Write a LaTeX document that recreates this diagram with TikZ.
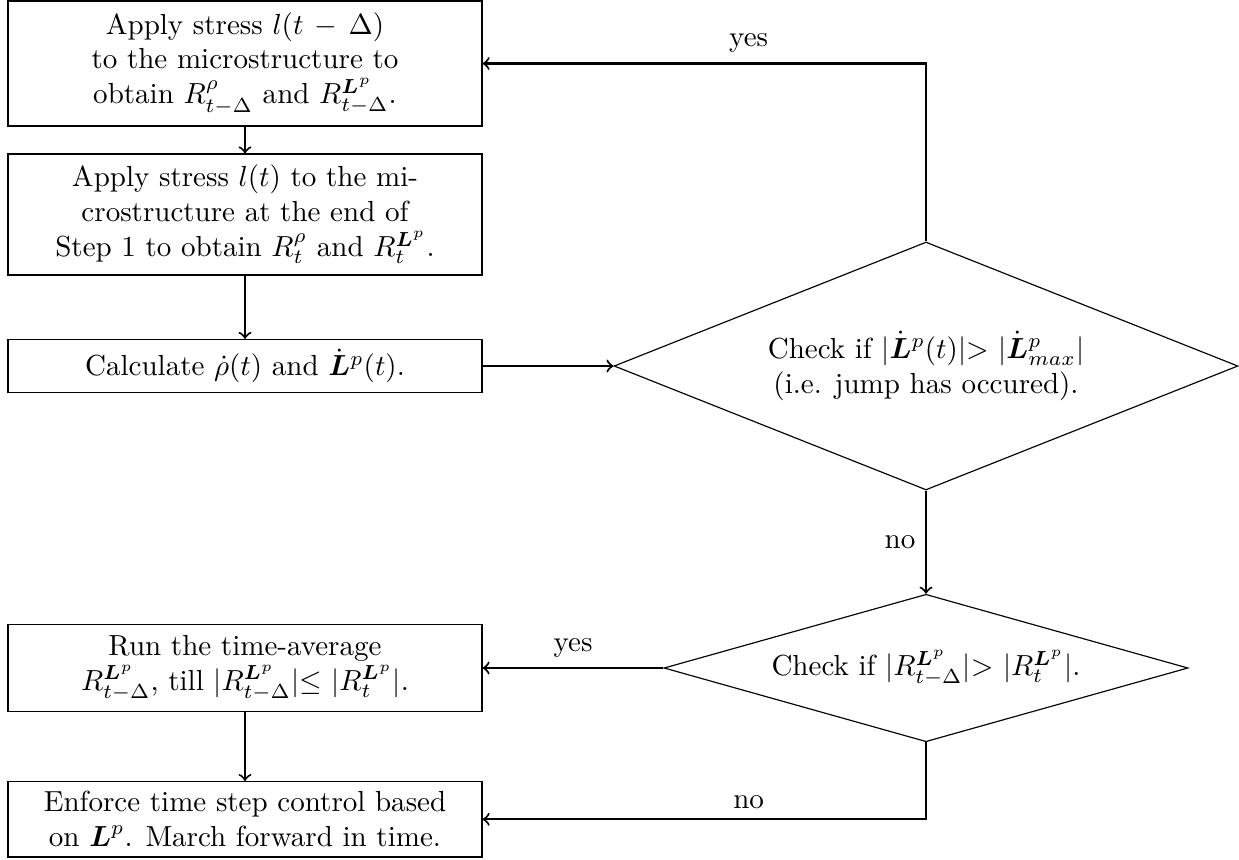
\documentclass[tikz,border=0pt]{standalone}
\usepackage{amsmath,amssymb}
\usetikzlibrary{shapes.geometric,arrows}
\newcommand{\bL}{\boldsymbol{L}}
\tikzset{
  procbox/.style={draw, thin, rectangle, align=center, inner sep=3pt,
    minimum width=163.3pt},
  decbox/.style={draw, thin, diamond, align=center, inner sep=0pt},
  conn/.style={->, line width=0.7pt},
  lbl/.style={inner sep=3.33pt}
}
\begin{document}
\begin{tikzpicture}[x=0.34445pt, y=-0.34445pt]
\useasboundingbox (0,0) rectangle (1239,859);
\node[procbox, minimum height=43.06pt] (b1) at (245,63.5)
  {Apply stress $l(t\,-\,\Delta)$\\ to the microstructure to\\ obtain $R^{\rho}_{t-\Delta}$ and $R^{\bL^p}_{t-\Delta}$.};
\node[procbox, minimum height=41.68pt] (b2) at (245,214.5)
  {Apply stress $l(t)$ to the mi-\\crostructure at the end of\\Step 1 to obtain $R^{\rho}_{t}$ and $R^{\bL^p}_{t}$.};
\node[procbox, minimum height=18.26pt] (b3) at (245,366)
  {Calculate $\dot{\rho}(t)$ and $\dot{\bL}{}^p(t)$.};
\node[procbox, minimum height=30.14pt] (b4) at (245,668)
  {Run the time-average\\ $R^{\bL^p}_{t-\Delta}$, till $|R^{\bL^p}_{t-\Delta}|{\leq}\ |R^{\bL^p}_{t}|$.};
\node[procbox, minimum height=26.0pt] (b5) at (245,819.3)
  {Enforce time step control based\\on $\bL^p$. March forward in time.};
\node[decbox, aspect=2.516, minimum width=214.9pt, minimum height=85.4pt] (d1) at (926,366)
  {Check if $|\dot{\bL}{}^p(t)|{>}\ |\dot{\bL}{}^p_{max}|$\\(i.e. jump has occured).};
\node[decbox, aspect=3.555, minimum width=180.5pt, minimum height=50.8pt] (d2) at (926,668)
  {Check if $|R^{\bL^p}_{t-\Delta}|{>}\ |R^{\bL^p}_{t}|$.};
\draw[conn] (b1.south) -- (b2.north);
\draw[conn] (b2.south) -- (b3.north);
\draw[conn] (b3.east) -- (d1.west);
\draw[conn] (d1.north) |- node[lbl, pos=0.70, above] {yes} (b1.east);
\draw[conn] (d1.south) -- node[lbl, left] {no} (d2.north);
\draw[conn] (d2.west) -- node[lbl, above] {yes} (b4.east);
\draw[conn] (d2.south) |- node[lbl, pos=0.70, above] {no} (b5.east);
\draw[conn] (b4.south) -- (b5.north);
\end{tikzpicture}
\end{document}
